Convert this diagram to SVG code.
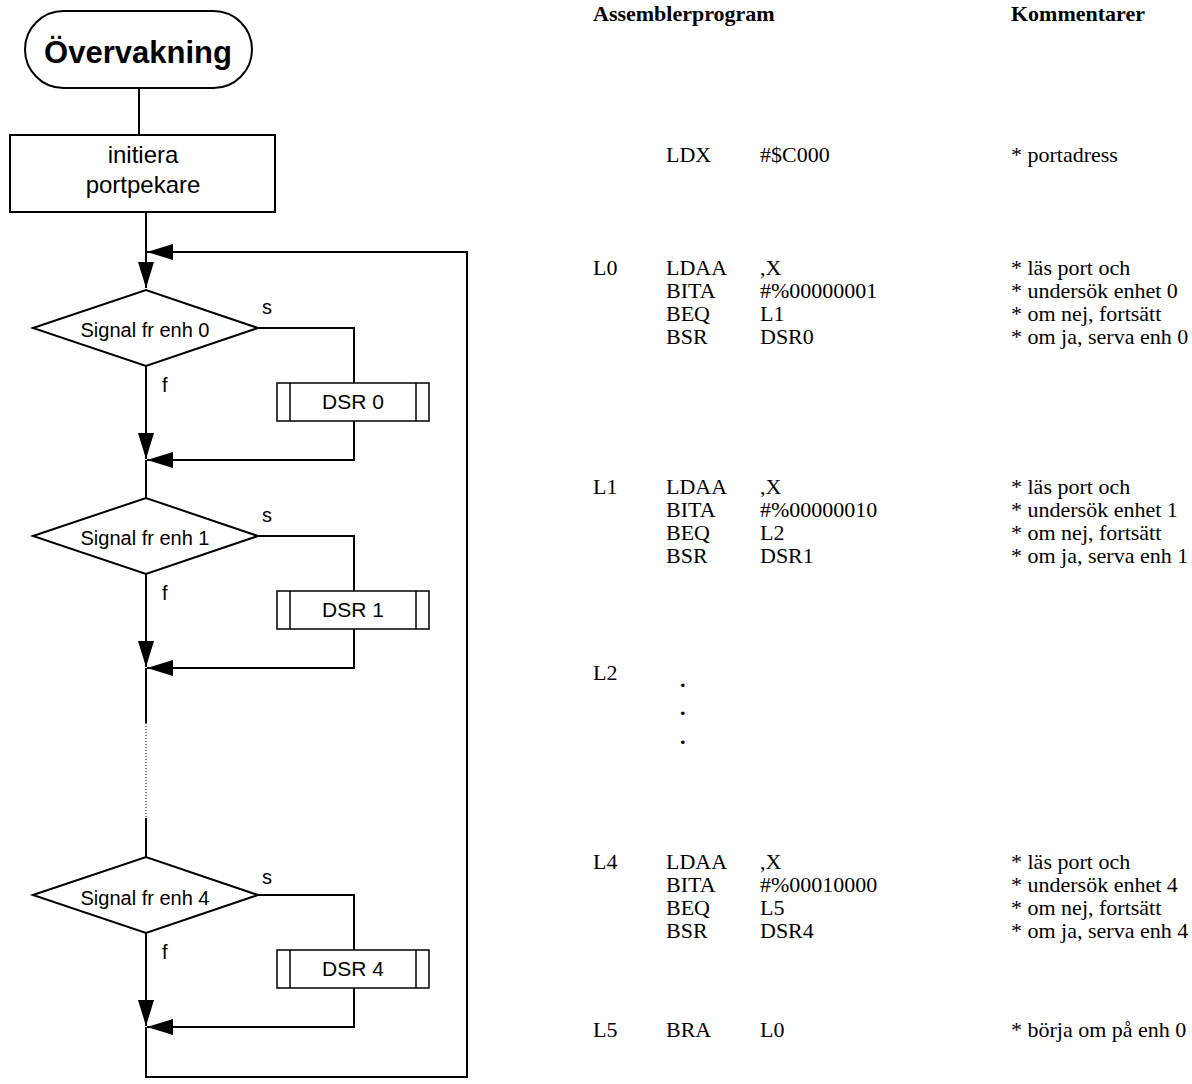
<svg xmlns="http://www.w3.org/2000/svg" width="1192" height="1084" viewBox="0 0 1192 1084">
<style>
  .ln { fill: none; stroke: #000; stroke-width: 2; }
  .shape { fill: #fff; stroke: #000; stroke-width: 2; }
  .sub { fill: #fff; stroke: #000; stroke-width: 1.5; }
  .sans { font-family: "Liberation Sans", Arial, sans-serif; fill: #000; }
  .lbl { font-size: 20px; }
  .ser { font-family: "Liberation Serif", "Times New Roman", serif; font-size: 22px; fill: #000; }
  .hdr { font-weight: bold; }
  .dot { stroke: #000; stroke-width: 1; stroke-dasharray: 1 2; fill: none; }
</style>
<defs>
  <marker id="arr" markerWidth="26" markerHeight="16" refX="26" refY="8" orient="auto" markerUnits="userSpaceOnUse">
    <path d="M0,0 L26,8 L0,16 Z" fill="#000"/>
  </marker>
</defs>
<rect width="1192" height="1084" fill="#fff"/>

<g id="connectors">
  <line class="ln" x1="139" y1="88" x2="139" y2="135"/>
  <line class="ln" x1="146" y1="212" x2="146" y2="288" marker-end="url(#arr)"/>
  <path class="ln" d="M146,1027 V1077 H467 V252 H147" marker-end="url(#arr)"/>
  <path class="ln" d="M258,328 H354 V383"/>
  <path class="ln" d="M354,421 V460 H147" marker-end="url(#arr)"/>
  <line class="ln" x1="146" y1="366" x2="146" y2="459" marker-end="url(#arr)"/>
  <line class="ln" x1="146" y1="460" x2="146" y2="498"/>
  <path class="ln" d="M258,536 H354 V591"/>
  <path class="ln" d="M354,629 V668 H147" marker-end="url(#arr)"/>
  <line class="ln" x1="146" y1="574" x2="146" y2="667" marker-end="url(#arr)"/>
  <line class="ln" x1="146" y1="668" x2="146" y2="723"/>
  <line class="dot" x1="146" y1="723" x2="146" y2="818"/>
  <line class="ln" x1="146" y1="818" x2="146" y2="857"/>
  <path class="ln" d="M258,895 H354 V950"/>
  <path class="ln" d="M354,988 V1027 H147" marker-end="url(#arr)"/>
  <line class="ln" x1="146" y1="933" x2="146" y2="1026" marker-end="url(#arr)"/>
</g>

<g id="start">
  <rect class="shape" x="25" y="11" width="227" height="77" rx="38.5"/>
  <text class="sans" x="138" y="63" font-size="31" font-weight="bold" text-anchor="middle">Övervakning</text>
</g>

<g id="init">
  <rect class="shape" x="10" y="135" width="265" height="77"/>
  <text class="sans" x="143" y="163" font-size="24" text-anchor="middle">initiera</text>
  <text class="sans" x="143" y="193" font-size="24" text-anchor="middle">portpekare</text>
</g>

<g id="dec0">
  <polygon class="shape" points="33,328 146,290 258,328 146,366"/>
  <text class="sans lbl" x="145" y="337" text-anchor="middle">Signal fr enh 0</text>
  <text class="sans lbl" x="262" y="314">s</text>
  <text class="sans lbl" x="162" y="392">f</text>
</g>
<g id="dsr0">
  <rect class="sub" x="277" y="383" width="152" height="38"/>
  <line class="sub" x1="290" y1="383" x2="290" y2="421"/>
  <line class="sub" x1="416" y1="383" x2="416" y2="421"/>
  <text class="sans" x="353" y="409" font-size="21" text-anchor="middle">DSR 0</text>
</g>

<g id="dec1">
  <polygon class="shape" points="33,536 146,498 258,536 146,574"/>
  <text class="sans lbl" x="145" y="545" text-anchor="middle">Signal fr enh 1</text>
  <text class="sans lbl" x="262" y="522">s</text>
  <text class="sans lbl" x="162" y="600">f</text>
</g>
<g id="dsr1">
  <rect class="sub" x="277" y="591" width="152" height="38"/>
  <line class="sub" x1="290" y1="591" x2="290" y2="629"/>
  <line class="sub" x1="416" y1="591" x2="416" y2="629"/>
  <text class="sans" x="353" y="617" font-size="21" text-anchor="middle">DSR 1</text>
</g>

<g id="dec4">
  <polygon class="shape" points="33,895 146,857 258,895 146,933"/>
  <text class="sans lbl" x="145" y="905" text-anchor="middle">Signal fr enh 4</text>
  <text class="sans lbl" x="262" y="884">s</text>
  <text class="sans lbl" x="162" y="959">f</text>
</g>
<g id="dsr4">
  <rect class="sub" x="277" y="950" width="152" height="38"/>
  <line class="sub" x1="290" y1="950" x2="290" y2="988"/>
  <line class="sub" x1="416" y1="950" x2="416" y2="988"/>
  <text class="sans" x="353" y="976" font-size="21" text-anchor="middle">DSR 4</text>
</g>

<g id="program">
  <text class="ser hdr" x="593" y="21">Assemblerprogram</text>
  <text class="ser hdr" x="1011" y="21">Kommentarer</text>

  <text class="ser" x="666" y="162">LDX</text>
  <text class="ser" x="760" y="162">#$C000</text>
  <text class="ser" x="1011" y="162">* portadress</text>

  <text class="ser" x="593" y="275">L0</text>
  <text class="ser" x="666" y="275">LDAA</text>
  <text class="ser" x="760" y="275">,X</text>
  <text class="ser" x="1011" y="275">* läs port och</text>
  <text class="ser" x="666" y="298">BITA</text>
  <text class="ser" x="760" y="298">#%00000001</text>
  <text class="ser" x="1011" y="298">* undersök enhet 0</text>
  <text class="ser" x="666" y="321">BEQ</text>
  <text class="ser" x="760" y="321">L1</text>
  <text class="ser" x="1011" y="321">* om nej, fortsätt</text>
  <text class="ser" x="666" y="344">BSR</text>
  <text class="ser" x="760" y="344">DSR0</text>
  <text class="ser" x="1011" y="344">* om ja, serva enh 0</text>

  <text class="ser" x="593" y="494">L1</text>
  <text class="ser" x="666" y="494">LDAA</text>
  <text class="ser" x="760" y="494">,X</text>
  <text class="ser" x="1011" y="494">* läs port och</text>
  <text class="ser" x="666" y="517">BITA</text>
  <text class="ser" x="760" y="517">#%00000010</text>
  <text class="ser" x="1011" y="517">* undersök enhet 1</text>
  <text class="ser" x="666" y="540">BEQ</text>
  <text class="ser" x="760" y="540">L2</text>
  <text class="ser" x="1011" y="540">* om nej, fortsätt</text>
  <text class="ser" x="666" y="563">BSR</text>
  <text class="ser" x="760" y="563">DSR1</text>
  <text class="ser" x="1011" y="563">* om ja, serva enh 1</text>

  <text class="ser" x="593" y="680">L2</text>
  <text class="ser hdr" x="680" y="687">.</text>
  <text class="ser hdr" x="680" y="715">.</text>
  <text class="ser hdr" x="680" y="744">.</text>

  <text class="ser" x="593" y="869">L4</text>
  <text class="ser" x="666" y="869">LDAA</text>
  <text class="ser" x="760" y="869">,X</text>
  <text class="ser" x="1011" y="869">* läs port och</text>
  <text class="ser" x="666" y="892">BITA</text>
  <text class="ser" x="760" y="892">#%00010000</text>
  <text class="ser" x="1011" y="892">* undersök enhet 4</text>
  <text class="ser" x="666" y="915">BEQ</text>
  <text class="ser" x="760" y="915">L5</text>
  <text class="ser" x="1011" y="915">* om nej, fortsätt</text>
  <text class="ser" x="666" y="938">BSR</text>
  <text class="ser" x="760" y="938">DSR4</text>
  <text class="ser" x="1011" y="938">* om ja, serva enh 4</text>

  <text class="ser" x="593" y="1037">L5</text>
  <text class="ser" x="666" y="1037">BRA</text>
  <text class="ser" x="760" y="1037">L0</text>
  <text class="ser" x="1011" y="1037">* börja om på enh 0</text>
</g>
</svg>
